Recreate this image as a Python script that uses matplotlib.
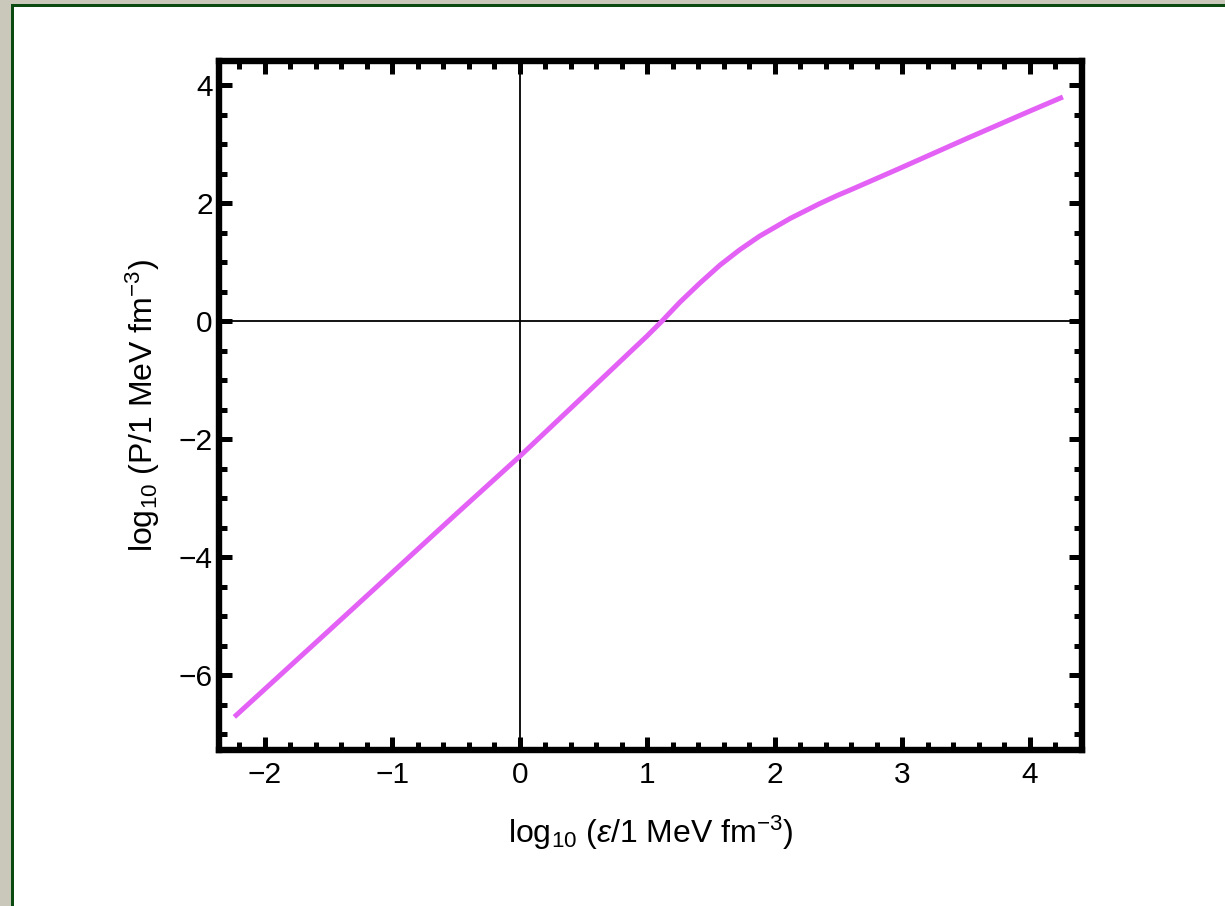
import numpy as np
import matplotlib
matplotlib.use("Agg")
import matplotlib.pyplot as plt
from matplotlib.patches import Rectangle

plt.rcParams['font.family'] = ['Liberation Sans', 'DejaVu Sans']
plt.rcParams['mathtext.fontset'] = 'custom'
plt.rcParams['mathtext.rm'] = 'Liberation Sans'
plt.rcParams['mathtext.it'] = 'Liberation Sans:italic'
plt.rcParams['mathtext.fallback'] = 'stixsans'

# curve: log10(eps) vs log10(P)
log_eps = [-2.24, -1.5, -1.0, -0.5, 0.0, 0.5, 0.886, 0.994, 1.11, 1.255,
           1.41, 1.57, 1.725, 1.88, 2.12, 2.35, 2.49, 2.61, 2.98, 3.5,
           4.0, 4.26]
log_p = [-6.71, -5.25, -4.26, -3.27, -2.29, -1.27, -0.48, -0.26, -0.01, 0.32,
         0.64, 0.95, 1.21, 1.44, 1.74, 1.99, 2.13, 2.24, 2.59, 3.09,
         3.56, 3.80]

x_ticks = [-2, -1, 0, 1, 2, 3, 4]
y_ticks = [-6, -4, -2, 0, 2, 4]

fig = plt.figure(figsize=(12.25, 9.06), dpi=100)
fig.patch.set_facecolor('#c9c8ba')
# slide frame: green border + white panel (behind the axes)
fig.patches.append(Rectangle((11 / 1225, 0), 1.0, 1 - 4 / 906, transform=fig.transFigure,
                             facecolor='#0b4a10', edgecolor='none', zorder=-10))
fig.patches.append(Rectangle((14 / 1225, 0), 1.0, 1 - 7 / 906, transform=fig.transFigure,
                             facecolor='white', edgecolor='none', zorder=-9))

ax = fig.add_axes([0.1788, 0.1722, 0.8833 - 0.1788, 0.9327 - 0.1722])
ax.set_facecolor('white')

ax.axhline(0, color='black', lw=1.3, zorder=1)
ax.axvline(0, color='black', lw=1.3, zorder=1)
ax.plot(log_eps, log_p, color='#e461f5', lw=3.6, solid_capstyle='butt',
        solid_joinstyle='round', zorder=2)

ax.set_xlim(-2.36, 4.41)
ax.set_ylim(-7.27, 4.41)
ax.set_xticks(x_ticks)
ax.set_yticks(y_ticks)
ax.set_xticks(np.arange(-2.2, 4.41, 0.2), minor=True)
ax.set_yticks(np.arange(-7.0, 4.41, 0.5), minor=True)

for s in ax.spines.values():
    s.set_linewidth(4.6)
ax.tick_params(which='both', direction='in', top=True, right=True, colors='black')
ax.tick_params(which='major', length=9.5, width=3.6, labelsize=21.5)
ax.tick_params(axis='x', which='major', pad=8)
ax.tick_params(axis='y', which='major', pad=4.5)
ax.tick_params(which='minor', length=6, width=3.6)

ax.set_xlabel(r'$\mathregular{log_{10}}$ ($\epsilon$/1 MeV fm$^{-3}$)', fontsize=23, labelpad=18)
ax.set_ylabel(r'$\mathregular{log_{10}}$ (P/1 MeV fm$^{-3}$)', fontsize=23, labelpad=12)

fig.savefig('out.png', dpi=100, facecolor=fig.get_facecolor())
